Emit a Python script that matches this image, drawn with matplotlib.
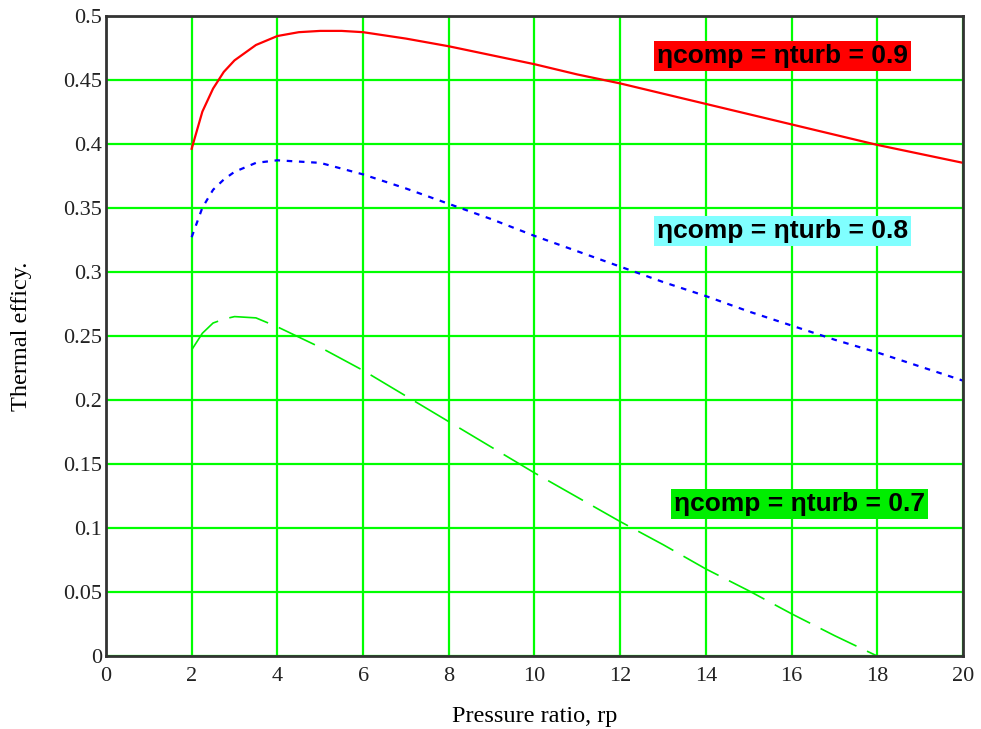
"""Thermal efficiency vs pressure ratio for three component efficiencies."""
import matplotlib

matplotlib.use("Agg")
import matplotlib.pyplot as plt  # noqa: E402

# pressure ratio samples
rp_09 = [2, 2.25, 2.5, 2.75, 3, 3.5, 4, 4.5, 5, 5.5, 6, 7, 8, 9, 10, 11, 12, 13, 14, 15, 16, 17, 18, 19, 20]
eff_09 = [0.396, 0.425, 0.443, 0.456, 0.465, 0.477, 0.484, 0.487, 0.488, 0.488, 0.487, 0.482, 0.476,
          0.469, 0.462, 0.454, 0.447, 0.439, 0.431, 0.423, 0.415, 0.407, 0.399, 0.392, 0.385]

rp_08 = [2, 2.25, 2.5, 2.75, 3, 3.5, 4, 4.5, 5, 6, 7, 8, 9, 10, 11, 12, 13, 14, 15, 16, 17, 18, 19, 20]
eff_08 = [0.327, 0.350, 0.364, 0.372, 0.378, 0.385, 0.387, 0.386, 0.385, 0.376, 0.365, 0.353,
          0.341, 0.328, 0.316, 0.304, 0.292, 0.281, 0.269, 0.258, 0.247, 0.237, 0.226, 0.215]

rp_07 = [2, 2.25, 2.5, 2.75, 3, 3.5, 4, 5, 6, 7, 8, 9, 10, 11, 12, 13, 14, 15, 16, 17, 18]
eff_07 = [0.239, 0.252, 0.260, 0.263, 0.265, 0.264, 0.257, 0.241, 0.223, 0.203, 0.183, 0.163,
          0.143, 0.124, 0.105, 0.087, 0.068, 0.051, 0.033, 0.016, 0.0]

x_ticks = list(range(0, 21, 2))
y_ticks = [0, 0.05, 0.1, 0.15, 0.2, 0.25, 0.3, 0.35, 0.4, 0.45, 0.5]
y_labels = ["0", "0.05", "0.1", "0.15", "0.2", "0.25", "0.3", "0.35", "0.4", "0.45", "0.5"]

labels = ["ηcomp = ηturb = 0.9", "ηcomp = ηturb = 0.8", "ηcomp = ηturb = 0.7"]

fig = plt.figure(figsize=(9.81, 7.29), dpi=100)
ax = fig.add_axes([0.108, 0.1, 0.8737, 0.8787])

ax.plot(rp_09, eff_09, color="red", lw=1.6)
ax.plot(rp_08, eff_08, color="blue", lw=1.6, dashes=(2.5, 3))
ax.plot(rp_07, eff_07, color="#00ee00", lw=1.2, dashes=(24, 7))

ax.set_xlim(0, 20)
ax.set_ylim(0, 0.5)
ax.set_xticks(x_ticks)
ax.set_yticks(y_ticks)
ax.set_yticklabels(y_labels)
ax.tick_params(length=0, labelsize=16)
ax.tick_params(axis="x", pad=8)
ax.tick_params(axis="y", pad=3)
for lab in ax.get_xticklabels() + ax.get_yticklabels():
    lab.set_fontfamily("Liberation Serif")
    lab.set_color("#222222")
ax.grid(color="#00ff00", lw=1.6)
ax.set_axisbelow(True)
for s in ax.spines.values():
    s.set_color("#333333")
    s.set_linewidth(2)

ax.set_xlabel("Pressure ratio, rp", fontfamily="Liberation Serif", fontsize=17.5, labelpad=14)
ax.set_ylabel("Thermal efficy.", fontfamily="Liberation Serif", fontsize=17.5, labelpad=22)

box_style = dict(fontfamily="Liberation Sans", fontweight="bold", fontsize=19,
                 ha="center", va="center", color="black")
ax.text(15.79, 0.4685, labels[0], bbox=dict(facecolor="red", edgecolor="none", pad=2), **box_style)
ax.text(15.79, 0.332, labels[1], bbox=dict(facecolor="#80ffff", edgecolor="none", pad=2), **box_style)
ax.text(16.19, 0.1185, labels[2], bbox=dict(facecolor="#00ee00", edgecolor="none", pad=2), **box_style)

fig.savefig("out.png", dpi=100)
plt.close(fig)
